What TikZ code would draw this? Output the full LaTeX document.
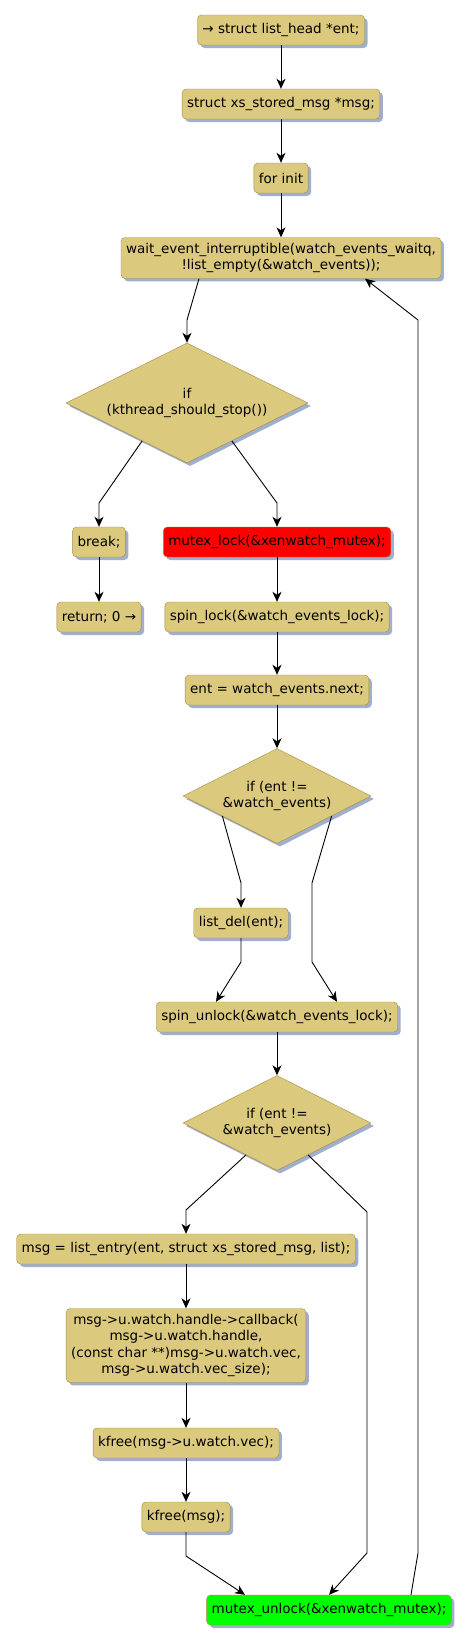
\documentclass[tikz,border=0pt]{standalone}
\usepackage{fontspec}
\setmainfont{DejaVu Sans}
\usetikzlibrary{arrows.meta,shapes.geometric,shadows,calc}

\definecolor{actfill}{RGB}{219,201,126}
\definecolor{actline}{RGB}{163,139,64}
\definecolor{shadowblue}{RGB}{160,175,205}

\begin{document}
\begin{tikzpicture}[
        x=1pt, y=-1pt,
        box/.style={
            rectangle,
            draw=actline,
            fill=actfill,
            rounded corners=4pt,
            minimum height=30pt,
            inner xsep=5pt,
            inner ysep=5.5pt,
            align=center,
            font=\fontsize{13.5}{16.5}\selectfont,
            drop shadow={shadow xshift=3pt, shadow yshift=-3pt, fill=shadowblue, opacity=1}
        },
        cond/.style={
            diamond,
            aspect=2,
            inner sep=0pt,
            draw=actline,
            fill=actfill,
            align=center,
            font=\fontsize{13.5}{16.5}\selectfont,
            drop shadow={shadow xshift=3pt, shadow yshift=-3pt, fill=shadowblue, opacity=1}
        },
        arrow/.style={
            -{Stealth[length=10pt, width=9pt, inset=3pt]},
            line width=0.9pt,
            draw=black
        }
    ]

    \useasboundingbox (0, 0) rectangle (472, 1644);

    \node[box] (head)    at (281, 30)  {→ struct list\_head *ent;};
    \node[box] (msgdecl) at (281, 104) {struct xs\_stored\_msg *msg;};
    \node[box] (forinit) at (281, 178) {for init};
    \node[box] (wait)    at (281, 258) {wait\_event\_interruptible(watch\_events\_waitq,\\!list\_empty(\&watch\_events));};

    \node[cond, minimum width=242pt, minimum height=120pt] (stop) at (187, 403) {if\\(kthread\_should\_stop())};

    \node[box] (brk)   at (99, 542)  {break;};
    \node[box] (ret)   at (99, 617)  {return; 0 →};
    \node[box, fill=red] (mlock) at (277, 542) {mutex\_lock(\&xenwatch\_mutex);};
    \node[box] (slock) at (277, 617) {spin\_lock(\&watch\_events\_lock);};
    \node[box] (next)  at (277, 690) {ent = watch\_events.next;};

    \node[cond, minimum width=188pt, minimum height=95pt] (chk1) at (277, 796) {if (ent !=\\\&watch\_events)};

    \node[box] (del)     at (241, 923)  {list\_del(ent);};
    \node[box] (sunlock) at (277, 1017) {spin\_unlock(\&watch\_events\_lock);};

    \node[cond, minimum width=188pt, minimum height=95pt] (chk2) at (277, 1123) {if (ent !=\\\&watch\_events)};

    \node[box] (entry) at (186, 1249)   {msg = list\_entry(ent, struct xs\_stored\_msg, list);};
    \node[box] (cb)    at (186, 1345.5) {msg->u.watch.handle->callback(\\msg->u.watch.handle,\\(const char **)msg->u.watch.vec,\\msg->u.watch.vec\_size);};
    \node[box] (kvec)  at (186, 1443)   {kfree(msg->u.watch.vec);};
    \node[box] (kmsg)  at (186, 1517)   {kfree(msg);};
    \node[box, fill=green] (munlock) at (329, 1610) {mutex\_unlock(\&xenwatch\_mutex);};

    \draw[arrow] (head) -- (msgdecl);
    \draw[arrow] (msgdecl) -- (forinit);
    \draw[arrow] (forinit) -- (wait);
    \draw[arrow] ([xshift=-82pt]wait.south) -- (187, 320) -- (stop.north);

    \draw[arrow] ($(stop.west)!0.63!(stop.south)$) -- (99, 503) -- (brk.north);
    \draw[arrow] ($(stop.east)!0.63!(stop.south)$) -- (277, 503) -- (mlock.north);
    \draw[arrow] (brk) -- (ret);
    \draw[arrow] (mlock) -- (slock);
    \draw[arrow] (slock) -- (next);
    \draw[arrow] (next) -- (chk1);

    \draw[arrow] ($(chk1.west)!0.42!(chk1.south)$) -- (241, 883) -- (del.north);
    \draw[arrow] ($(chk1.east)!0.42!(chk1.south)$) -- (312, 883) -- (312, 962) -- ([xshift=60pt]sunlock.north);
    \draw[arrow] (del.south) -- (241, 962) -- ([xshift=-61pt]sunlock.north);
    \draw[arrow] (sunlock) -- (chk2);

    \draw[arrow] ($(chk2.west)!0.67!(chk2.south)$) -- (186, 1210) -- (entry.north);
    \draw[arrow] ($(chk2.east)!0.67!(chk2.south)$) -- (367, 1212) -- (367, 1553) -- (munlock.north);
    \draw[arrow] (entry) -- (cb);
    \draw[arrow] (cb) -- (kvec);
    \draw[arrow] (kvec) -- (kmsg);
    \draw[arrow] (kmsg.south) -- (186, 1556) -- ([xshift=-84pt]munlock.north);
    \draw[arrow] ([xshift=82pt]munlock.north) -- (418, 1553) -- (418, 320) -- ([xshift=84pt]wait.south);

\end{tikzpicture}
\end{document}
